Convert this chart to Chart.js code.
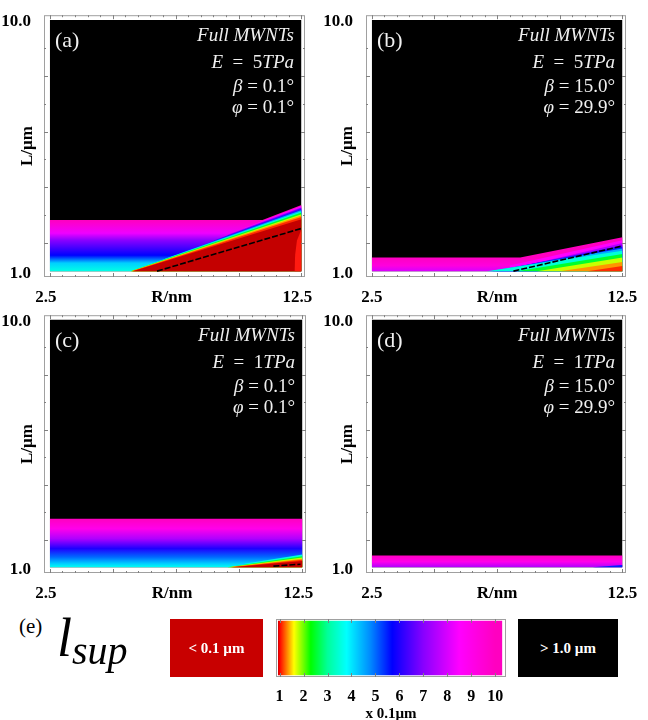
<!DOCTYPE html>
<html>
<head>
<meta charset="utf-8">
<script src="https://cdn.jsdelivr.net/npm/chart.js@4/dist/chart.umd.min.js"></script>
<style>
  body { margin: 0; background: #fff; }
  #wrap { position: relative; width: 648px; height: 720px; overflow: hidden; font-family: "Liberation Serif", serif; }
  canvas { position: absolute; }
  .txt { position: absolute; white-space: nowrap; line-height: 1; }
  .box { position: absolute; display: flex; align-items: center; justify-content: center;
         color: #fff; font-weight: bold; font-size: 15px; }
</style>
</head>
<body>
<div id="wrap">
  <canvas id="pa" width="320" height="310" style="left:0;top:0"></canvas>
  <canvas id="pb" width="328" height="310" style="left:320px;top:0"></canvas>
  <canvas id="pc" width="320" height="310" style="left:0;top:300px"></canvas>
  <canvas id="pd" width="328" height="310" style="left:320px;top:300px"></canvas>
  <canvas id="pe" width="270" height="120" style="left:256px;top:605px"></canvas>

  <div class="txt" style="left:19px;top:616px;font-size:21px">(e)</div>
  <div class="txt" style="left:57px;top:611px;font-style:italic">
    <span style="font-size:54px">l</span><span style="font-size:40px;position:relative;top:8px">sup</span>
  </div>
  <div class="box" style="left:170px;top:619px;width:93px;height:58px;background:#c80000">&lt; 0.1 µm</div>
  <div class="box" style="left:518px;top:619px;width:100px;height:58px;background:#000">&gt; 1.0 µm</div>
</div>

<script>
// l_sup colour scale, values in units of 0.1 µm
const cbarV = [0.9, 1.0, 1.3, 1.6, 2.3, 3.0, 3.8, 4.8, 5.7, 7.0, 8.5, 10.0];
const cbarC = ["#c40000", "#ff0000", "#ff8000", "#ffff00", "#00ff00", "#00ff9a",
               "#00ffff", "#0088ff", "#0000ff", "#8800ff", "#ff00ff", "#ff00c0"];
const cbarTicks = [1, 2, 3, 4, 5, 6, 7, 8, 9, 10];
const cbarLo = 0.93, cbarHi = 10.3;

// axes
const rRange = [2.5, 12.5];      // R / nm
const lRange = [1.0, 10.0];      // L / µm
const rMajor = [2.5, 5, 7.5, 10, 12.5];
const rMinor = [3, 3.5, 4, 4.5, 5.5, 6, 6.5, 7, 8, 8.5, 9, 9.5, 10.5, 11, 11.5, 12];
const lMajor = [2, 4, 6, 8];
const lMinor = [3, 5, 7, 9];

// panel labels
const panelTags = ["(a)", "(b)", "(c)", "(d)"];
const modulusTPa = ["5", "5", "1", "1"];
const betaDeg = ["0.1", "15.0", "0.1", "15.0"];
const phiDeg = ["0.1", "29.9", "0.1", "29.9"];

// ---- panel (a): E = 5 TPa, beta = 0.1, phi = 0.1
// l_sup along L on the left side (flat part)
const aFlatL = [1.0, 1.29, 1.57, 2.1, 2.36, 2.83];
const aFlatV = [3.6, 4.2, 5.7, 7.0, 8.3, 10.0];
// l_sup = 1.0 µm contour (edge of the black region)
const aTopR = [2.5, 10.95, 12.5];
const aTopL = [2.83, 2.83, 3.37];
// contours in the sloping band: level, start (R, L), L at R = 12.5
const aBandV  = [9, 8, 7, 6, 5, 4, 3, 2, 1.5, 1.2, 1.0];
const aBandR0 = [10.22, 9.56, 9.01, 7.81, 7.07, 6.3, 5.7, 5.72, 5.74, 5.76, 5.8];
const aBandL0 = [2.55, 2.3, 2.1, 1.69, 1.44, 1.19, 1.0, 1.0, 1.0, 1.0, 1.0];
const aBandL1 = [3.33, 3.29, 3.26, 3.22, 3.19, 3.15, 3.10, 3.04, 2.99, 2.94, 2.86];
const aFloorV = 0.5;
const aPatchR = [12.22, 12.25, 12.32, 12.5];
const aPatchL = [1.0, 1.6, 2.1, 2.5];
const aDashR = [6.76, 12.5];
const aDashL = [1.0, 2.53];

// ---- panel (b): E = 5 TPa, beta = 15.0, phi = 29.9
const bFlatL = [1.0, 1.2, 1.49];
const bFlatV = [8.0, 9.3, 10.0];
const bTopR = [2.5, 8.42, 12.5];
const bTopL = [1.49, 1.49, 2.21];
const bBandV  = [9, 8, 7, 6, 5, 4, 3, 2, 1.5, 1.2];
const bBandR0 = [8.0, 7.6, 7.45, 7.3, 7.2, 7.09, 8.29, 9.09, 10.0, 11.1];
const bBandL0 = [1.2, 1.0, 1.0, 1.0, 1.0, 1.0, 1.0, 1.0, 1.0, 1.0];
const bBandL1 = [2.11, 2.01, 1.93, 1.87, 1.81, 1.73, 1.61, 1.49, 1.33, 1.18];
const bFloorV = 1.0;
const bDashR = [8.15, 12.49];
const bDashL = [1.0, 1.9];

// ---- panel (c): E = 1 TPa, beta = 0.1, phi = 0.1
const cFlatL = [1.0, 1.13, 1.37, 1.68, 2.04, 2.40, 2.76];
const cFlatV = [3.7, 4.2, 5.0, 6.0, 7.5, 9.0, 10.0];
const cTopR = [2.5, 12.5];
const cTopL = [2.76, 2.76];
const cBandV  = [4, 3, 2, 1.5, 1.2, 1.0];
const cBandR0 = [10.2, 9.52, 9.56, 9.6, 9.65, 9.7];
const cBandL0 = [1.13, 1.0, 1.0, 1.0, 1.0, 1.0];
const cBandL1 = [1.46, 1.40, 1.35, 1.31, 1.27, 1.23];
const cFloorV = 0.5;
const cDashR = [11.35, 12.42];
const cDashL = [1.04, 1.11];

// ---- panel (d): E = 1 TPa, beta = 15.0, phi = 29.9
const dFlatL = [1.0, 1.2, 1.43];
const dFlatV = [7.5, 9.0, 10.0];
const dTopR = [2.5, 12.5];
const dTopL = [1.43, 1.43];
const dBandV  = [6];
const dBandR0 = [11.3];
const dBandL0 = [1.0];
const dBandL1 = [1.08];
const dFloorV = 5;

const serif = '"Liberation Serif", "Times New Roman", serif';

function hexRgb(h) {
  const n = parseInt(h.slice(1), 16);
  return [(n >> 16) & 255, (n >> 8) & 255, n & 255];
}

function colorAt(v) {
  if (v <= cbarV[0]) return cbarC[0];
  for (let i = 1; i < cbarV.length; i++) {
    if (v <= cbarV[i]) {
      const t = (v - cbarV[i - 1]) / (cbarV[i] - cbarV[i - 1]);
      const a = hexRgb(cbarC[i - 1]), b = hexRgb(cbarC[i]);
      return "rgb(" + a.map((c, k) => Math.round(c + (b[k] - c) * t)).join(",") + ")";
    }
  }
  return cbarC[cbarC.length - 1];
}

function pts(rs, ls) {
  return rs.map((r, i) => ({ x: r, y: ls[i] }));
}

// vertical gradient of the flat region, positioned with the y scale
function flatGradient(chart, flatL, flatV) {
  const y = chart.scales.y;
  if (!y || !chart.chartArea) return colorAt(10);
  const y0 = y.getPixelForValue(flatL[0]);
  const y1 = y.getPixelForValue(flatL[flatL.length - 1]);
  const g = chart.ctx.createLinearGradient(0, y0, 0, y1);
  flatL.forEach((l, i) => {
    g.addColorStop((y.getPixelForValue(l) - y0) / (y1 - y0), colorAt(flatV[i]));
  });
  return g;
}

const frameTicks = {
  id: "frameTicks",
  afterDatasetsDraw(chart, args, opts) {
    const { ctx, chartArea: a, scales } = chart;
    const x = scales.x, y = scales.y;
    ctx.save();
    ctx.strokeStyle = "#a0a0a0";
    ctx.lineWidth = 1;
    ctx.strokeRect(a.left + 0.5, a.top + 0.5, a.width - 1, a.height - 1);
    ctx.strokeStyle = "#808080";
    ctx.beginPath();
    const xt = (vals, len) => vals.forEach(v => {
      const px = Math.round(x.getPixelForValue(v)) + 0.5;
      ctx.moveTo(px, a.bottom); ctx.lineTo(px, a.bottom - len);
      ctx.moveTo(px, a.top); ctx.lineTo(px, a.top + len);
    });
    const yt = (vals, len) => vals.forEach(v => {
      const py = Math.round(y.getPixelForValue(v)) + 0.5;
      ctx.moveTo(a.left, py); ctx.lineTo(a.left + len, py);
      ctx.moveTo(a.right, py); ctx.lineTo(a.right - len, py);
    });
    if (opts.xMajor) xt(opts.xMajor, 4);
    if (opts.xMinor) xt(opts.xMinor, 2);
    if (opts.yMajor && y.options.display !== false) yt(opts.yMajor, 4);
    if (opts.yMinor && y.options.display !== false) yt(opts.yMinor, 2);
    ctx.stroke();
    ctx.restore();
  }
};

const panelText = {
  id: "panelText",
  afterDatasetsDraw(chart, args, opts) {
    if (!opts.tag) return;
    const { ctx, chartArea: a } = chart;
    ctx.save();
    ctx.fillStyle = "#f0f0f0";
    ctx.textBaseline = "alphabetic";
    ctx.textAlign = "left";
    ctx.font = "22px " + serif;
    ctx.fillText(opts.tag, a.left + 11, a.top + 32);
    const lines = [
      [["Full MWNTs", true]],
      [["E", true], ["\u2002=\u2002" + opts.e, false], ["TPa", true]],
      [["\u03B2", true], [" = " + opts.beta + "\u00B0", false]],
      [["\u03C6", true], [" = " + opts.phi + "\u00B0", false]]
    ];
    const base = [26, 53, 77, 98];
    lines.forEach((segs, i) => {
      const fonts = segs.map(s => (s[1] ? "italic " : "") + "19px " + serif);
      let w = 0;
      segs.forEach((s, k) => { ctx.font = fonts[k]; w += ctx.measureText(s[0]).width; });
      let px = a.right - 11 - w;
      segs.forEach((s, k) => {
        ctx.font = fonts[k];
        ctx.fillText(s[0], px, a.top + base[i]);
        px += ctx.measureText(s[0]).width;
      });
    });
    ctx.restore();
  }
};

function panelChart(id, idx, p, pad) {
  const datasets = [];
  let order = 100;
  // l_sup > 1.0 µm everywhere else
  datasets.push({
    data: pts(rRange, [lRange[1], lRange[1]]),
    fill: { value: lRange[0] }, backgroundColor: "#000", order: order--
  });
  // graded region below the 1.0 µm contour
  datasets.push({
    data: pts(p.topR, p.topL),
    fill: { value: lRange[0] },
    backgroundColor: c => flatGradient(c.chart, p.flatL, p.flatV),
    order: order--
  });
  // sloping band, painted from high to low l_sup
  p.bandV.forEach((v, i) => {
    const next = i + 1 < p.bandV.length ? p.bandV[i + 1] : p.floorV;
    datasets.push({
      data: [{ x: p.bandR0[i], y: p.bandL0[i] }, { x: rRange[1], y: p.bandL1[i] }],
      fill: { value: lRange[0] }, backgroundColor: colorAt((v + next) / 2), order: order--
    });
  });
  if (p.patchR) {
    datasets.push({
      data: pts(p.patchR, p.patchL),
      fill: { value: lRange[0] }, backgroundColor: "#ff1a10", order: order--
    });
  }
  if (p.dashR) {
    datasets.push({
      data: pts(p.dashR, p.dashL), fill: false,
      borderColor: "#000", borderWidth: 1.6, borderDash: [6, 2], order: 0
    });
  }
  datasets.forEach(d => {
    d.pointRadius = 0;
    d.tension = 0;
    if (d.borderWidth === undefined) { d.borderWidth = 0; d.borderColor = "rgba(0,0,0,0)"; }
  });

  return new Chart(document.getElementById(id), {
    type: "line",
    data: { datasets },
    options: {
      responsive: false,
      animation: false,
      events: [],
      layout: { padding: { left: 0, top: pad.top, right: pad.right, bottom: 0 } },
      scales: {
        x: {
          type: "linear", min: 2.27, max: 12.64,
          afterBuildTicks: s => { s.ticks = [{ value: rRange[0] }, { value: 7.5 }, { value: rRange[1] }]; },
          afterFit: s => { s.height = pad.xh; },
          grid: { display: false }, border: { display: false },
          ticks: {
            autoSkip: false, maxRotation: 0, padding: 2, labelOffset: pad.xoff, color: "#000",
            font: { family: serif, size: 17, weight: "bold" },
            callback: v => (v === 7.5 ? "R/nm" : v.toFixed(1))
          }
        },
        y: {
          type: "linear", min: 0.79, max: 10.17,
          afterBuildTicks: s => { s.ticks = [{ value: lRange[0] }, { value: lRange[1] }]; },
          afterFit: s => { s.width = pad.yw; },
          grid: { display: false }, border: { display: false },
          ticks: {
            padding: 5, labelOffset: 2, color: "#000",
            font: { family: serif, size: 17, weight: "bold" },
            callback: v => v.toFixed(1)
          },
          title: {
            display: true, text: "L/µm", color: "#000",
            font: { family: serif, size: 17, weight: "bold" },
            padding: { top: 17, bottom: 0 }
          }
        }
      },
      plugins: {
        legend: { display: false },
        tooltip: { enabled: false },
        frameTicks: { xMajor: rMajor, xMinor: rMinor, yMajor: lMajor, yMinor: lMinor },
        panelText: { tag: panelTags[idx], e: modulusTPa[idx], beta: betaDeg[idx], phi: phiDeg[idx] }
      }
    },
    plugins: [frameTicks, panelText]
  });
}

panelChart("pa", 0, {
  flatL: aFlatL, flatV: aFlatV, topR: aTopR, topL: aTopL,
  bandV: aBandV, bandR0: aBandR0, bandL0: aBandL0, bandL1: aBandL1, floorV: aFloorV,
  patchR: aPatchR, patchL: aPatchL, dashR: aDashR, dashL: aDashL
}, { top: 15, right: 15, xh: 33, yw: 44, xoff: -4 });

panelChart("pb", 1, {
  flatL: bFlatL, flatV: bFlatV, topR: bTopR, topL: bTopL,
  bandV: bBandV, bandR0: bBandR0, bandL0: bBandL0, bandL1: bBandL1, floorV: bFloorV,
  dashR: bDashR, dashL: bDashL
}, { top: 15, right: 22, xh: 33, yw: 46, xoff: 0 });

panelChart("pc", 2, {
  flatL: cFlatL, flatV: cFlatV, topR: cTopR, topL: cTopL,
  bandV: cBandV, bandR0: cBandR0, bandL0: cBandL0, bandL1: cBandL1, floorV: cFloorV,
  dashR: cDashR, dashL: cDashL
}, { top: 14, right: 14, xh: 37, yw: 44, xoff: -4 });

panelChart("pd", 3, {
  flatL: dFlatL, flatV: dFlatV, topR: dTopR, topL: dTopL,
  bandV: dBandV, bandR0: dBandR0, bandL0: dBandL0, bandL1: dBandL1, floorV: dFloorV
}, { top: 14, right: 22, xh: 37, yw: 46, xoff: 0 });

// (e) colour bar
function barGradient(chart) {
  const x = chart.scales.x;
  if (!x || !chart.chartArea) return cbarC[5];
  const x0 = x.getPixelForValue(cbarLo), x1 = x.getPixelForValue(cbarHi);
  const g = chart.ctx.createLinearGradient(x0, 0, x1, 0);
  cbarV.forEach((v, i) => {
    const t = (x.getPixelForValue(v) - x0) / (x1 - x0);
    g.addColorStop(Math.min(1, Math.max(0, t)), cbarC[i]);
  });
  return g;
}

new Chart(document.getElementById("pe"), {
  type: "line",
  data: {
    datasets: [{
      data: [{ x: cbarLo, y: 1 }, { x: cbarHi, y: 1 }],
      fill: { value: 0 },
      backgroundColor: c => barGradient(c.chart),
      borderWidth: 0, borderColor: "rgba(0,0,0,0)", pointRadius: 0
    }]
  },
  options: {
    responsive: false,
    animation: false,
    events: [],
    layout: { padding: { left: 20, right: 20, top: 14, bottom: 0 } },
    scales: {
      x: {
        type: "linear", min: 0.85, max: 10.45,
        afterBuildTicks: s => { s.ticks = cbarTicks.map(v => ({ value: v })); },
        afterFit: s => { s.height = 48; },
        grid: { display: false }, border: { display: false },
        ticks: {
          autoSkip: false, maxRotation: 0, padding: 2, color: "#000",
          font: { family: serif, size: 16, weight: "bold" }
        },
        title: {
          display: true, text: "x 0.1µm", color: "#000",
          font: { family: serif, size: 15, weight: "bold" },
          padding: { top: 0, bottom: 2 }
        }
      },
      y: { display: false, min: -0.03, max: 1.03 }
    },
    plugins: {
      legend: { display: false },
      tooltip: { enabled: false },
      frameTicks: { xMajor: cbarTicks }
    }
  },
  plugins: [frameTicks]
});
</script>
</body>
</html>
